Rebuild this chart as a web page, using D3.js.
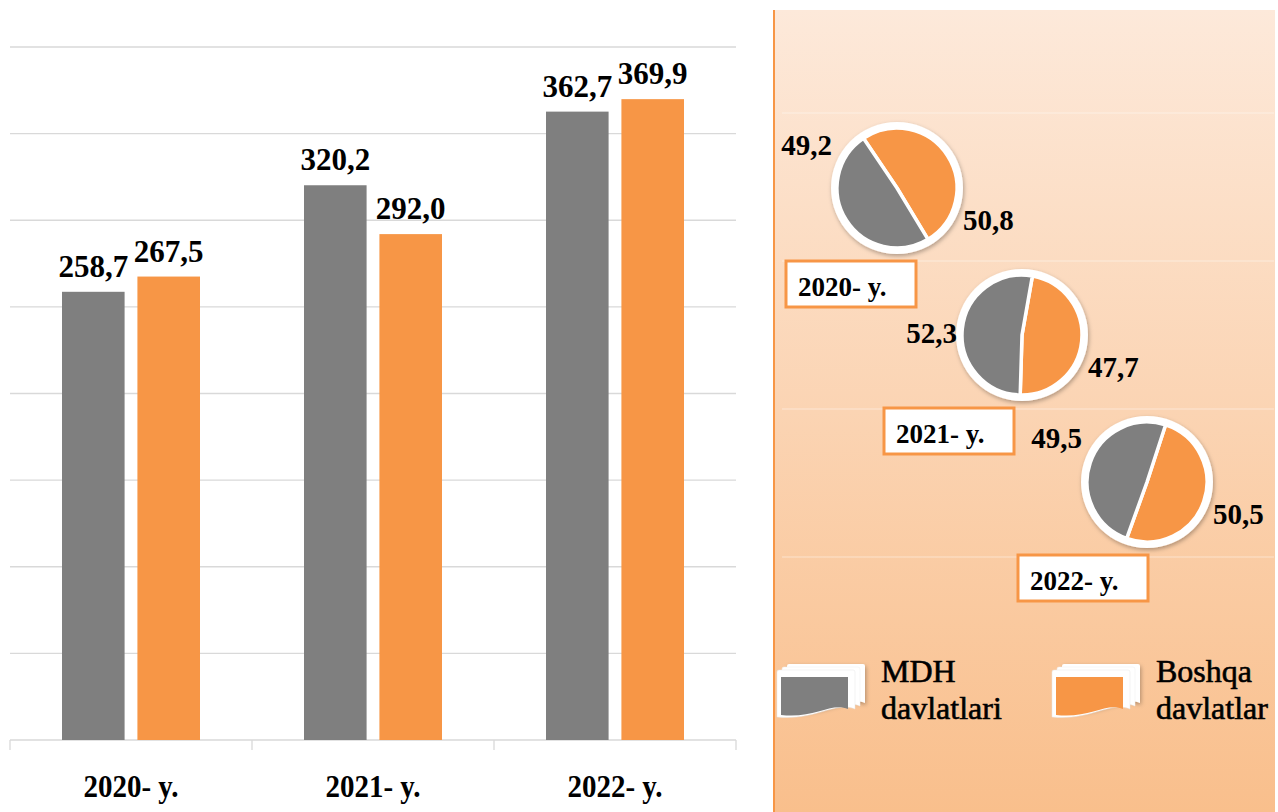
<!DOCTYPE html>
<html>
<head>
<meta charset="utf-8">
<script src="https://cdn.jsdelivr.net/npm/d3@7"></script>
<style>
  html, body { margin: 0; padding: 0; background: #fff; }
  svg { display: block; }
</style>
</head>
<body>
<svg id="chart" width="1278" height="812"></svg>
<script>
// data
const years = ["2020- y.", "2021- y.", "2022- y."];
const mdhValues = [258.7, 320.2, 362.7];
const boshqaValues = [267.5, 292.0, 369.9];
const mdhShare = [49.2, 52.3, 49.5];
const boshqaShare = [50.8, 47.7, 50.5];
const seriesNames = [["MDH", "davlatlari"], ["Boshqa", "davlatlar"]];
const seriesColors = ["#7f7f7f", "#f79646"];

const fmt = v => d3.format(".1f")(v).replace(".", ",");

const svg = d3.select("#chart")
    .attr("font-family", "'Liberation Serif', 'Times New Roman', serif");
const defs = svg.append("defs");

let shadow = defs.append("filter").attr("id", "shadow")
    .attr("x", "-20%").attr("y", "-20%").attr("width", "140%").attr("height", "140%");
shadow.append("feDropShadow").attr("dx", 1).attr("dy", 2)
    .attr("stdDeviation", 2).attr("flood-color", "#000").attr("flood-opacity", 0.3);

let grad = defs.append("linearGradient").attr("id", "panelGrad")
    .attr("x1", 0).attr("y1", 0).attr("x2", 0).attr("y2", 1);
grad.append("stop").attr("offset", "0%").attr("stop-color", "#fde9da");
grad.append("stop").attr("offset", "100%").attr("stop-color", "#f9bf8c");

/* ---- bar chart ---- */
let x = d3.scaleBand().domain(years).range([10, 736]);
let xInner = d3.scaleBand().domain([0, 1]).range([52, 190]).paddingInner(0.17);
let y = d3.scaleLinear().domain([0, 400]).range([740, 47]);

let bars = svg.append("g");

bars.selectAll("line.grid")
    .data(y.ticks(8))
    .enter()
    .append("line")
    .attr("class", "grid")
    .attr("x1", x.range()[0])
    .attr("x2", x.range()[1])
    .attr("y1", d => y(d))
    .attr("y2", d => y(d))
    .attr("stroke", "#d9d9d9")
    .attr("stroke-width", 1.3);

// tick marks at category boundaries
let bounds = years.map(d => x(d)).concat([x.range()[1]]);
bars.selectAll("line.tick")
    .data(bounds)
    .enter()
    .append("line")
    .attr("x1", d => d).attr("x2", d => d)
    .attr("y1", y(0)).attr("y2", y(0) + 10)
    .attr("stroke", "#d9d9d9")
    .attr("stroke-width", 1.3);

let groups = bars.selectAll("g.year")
    .data(years)
    .enter()
    .append("g")
    .attr("transform", d => "translate(" + x(d) + ",0)");

groups.each(function (yr, i) {
    let g = d3.select(this);
    [mdhValues[i], boshqaValues[i]].forEach(function (v, s) {
        g.append("rect")
            .attr("x", xInner(s))
            .attr("width", xInner.bandwidth())
            .attr("y", y(v))
            .attr("height", y(0) - y(v))
            .attr("fill", seriesColors[s]);
        g.append("text")
            .attr("x", xInner(s) + xInner.bandwidth() / 2)
            .attr("y", y(v) - 15)
            .attr("text-anchor", "middle")
            .attr("font-size", 31)
            .attr("font-weight", "bold")
            .text(fmt(v));
    });
    // slightly tall category labels
    g.append("text")
        .attr("transform", "translate(" + (x.bandwidth() / 2) + ",797) scale(1,1.1)")
        .attr("text-anchor", "middle")
        .attr("font-size", 29)
        .attr("font-weight", "bold")
        .text(yr);
});

/* ---- right panel ---- */
let panel = svg.append("g");
panel.append("rect")
    .attr("x", 773).attr("y", 10)
    .attr("width", 502).attr("height", 802)
    .attr("fill", "url(#panelGrad)");
panel.append("line")
    .attr("x1", 774).attr("x2", 774)
    .attr("y1", 10).attr("y2", 812)
    .attr("stroke", "#f79646").attr("stroke-width", 2);

panel.selectAll("line.faint")
    .data(d3.range(4))
    .enter()
    .append("line")
    .attr("x1", 782).attr("x2", 1274)
    .attr("y1", d => 113 + 148 * d)
    .attr("y2", d => 113 + 148 * d)
    .attr("stroke", "#fff").attr("stroke-opacity", 0.45);

let pieX = d3.scaleLinear().domain([0, 2]).range([897, 1147]);
let pieY = d3.scaleLinear().domain([0, 2]).range([188, 482]);
let boxX = d3.scaleLinear().domain([0, 1, 2]).range([786, 884, 1018]);
let leftLabelDy = [-33, 8, -34];
let startAngles = [-34, 10, 18];
let r = 60;

let arc = d3.arc().innerRadius(0).outerRadius(r);

years.forEach(function (yr, i) {
    let cx = pieX(i), cy = pieY(i);
    let g = panel.append("g").attr("transform", "translate(" + cx + "," + cy + ")");

    g.append("circle").attr("r", r + 6).attr("fill", "#fff").attr("filter", "url(#shadow)");

    let start = startAngles[i] * Math.PI / 180;
    let pie = d3.pie().sort(null)
        .startAngle(start).endAngle(start + 2 * Math.PI);
    // orange slice first clockwise, then grey
    let slices = pie([boshqaShare[i], mdhShare[i]]);
    g.selectAll("path")
        .data(slices)
        .enter()
        .append("path")
        .attr("d", arc)
        .attr("fill", (d, k) => seriesColors[1 - k])
        .attr("stroke", "#fff")
        .attr("stroke-width", 3.5)
        .attr("stroke-linejoin", "round");

    g.append("text")
        .attr("x", -r - 5)
        .attr("y", leftLabelDy[i])
        .attr("text-anchor", "end")
        .attr("font-size", 29)
        .attr("font-weight", "bold")
        .text(fmt(mdhShare[i]));
    g.append("text")
        .attr("x", r + 6)
        .attr("y", 42)
        .attr("text-anchor", "start")
        .attr("font-size", 29)
        .attr("font-weight", "bold")
        .text(fmt(boshqaShare[i]));

    let by = cy + 73;
    panel.append("rect")
        .attr("x", boxX(i)).attr("y", by)
        .attr("width", 130).attr("height", 46)
        .attr("fill", "#fff")
        .attr("stroke", "#f79646").attr("stroke-width", 3);
    panel.append("text")
        .attr("x", boxX(i) + 12)
        .attr("y", by + 35)
        .attr("font-size", 27)
        .attr("font-weight", "bold")
        .text(yr);
});

/* ---- legend ---- */
let legend = panel.selectAll("g.legend")
    .data(seriesNames)
    .enter()
    .append("g")
    .attr("class", "legend")
    .attr("transform", (d, i) => "translate(" + (777 + 275 * i) + ",664)");

let wavyCard = "M0,5 Q0,3 2,3 L76,3 Q78,3 78,5 L78,42 C58,34 38,54 0,50 Z";
legend.append("path").attr("d", wavyCard).attr("transform", "translate(10,-3)")
    .attr("fill", "#fff").attr("filter", "url(#shadow)");
legend.append("path").attr("d", wavyCard).attr("transform", "translate(5,0)")
    .attr("fill", "#fff").attr("stroke", "#eee").attr("stroke-width", 0.5);
legend.append("path").attr("d", wavyCard).attr("transform", "translate(0,3)")
    .attr("fill", "#fff").attr("stroke", "#e6e6e6").attr("stroke-width", 0.5);
legend.append("path")
    .attr("d", "M0,0 L67,0 L67,32 C50,25 33,42 0,38 Z")
    .attr("transform", "translate(4,13)")
    .attr("fill", (d, i) => seriesColors[i]);

legend.each(function (lines) {
    let t = d3.select(this).append("text")
        .attr("x", 104)
        .attr("y", 18)
        .attr("font-size", 32)
        .attr("stroke", "#000")
        .attr("stroke-width", 0.6);
    lines.forEach(function (ln, k) {
        t.append("tspan").attr("x", 104).attr("dy", k === 0 ? 0 : 37).text(ln);
    });
});
</script>
</body>
</html>
